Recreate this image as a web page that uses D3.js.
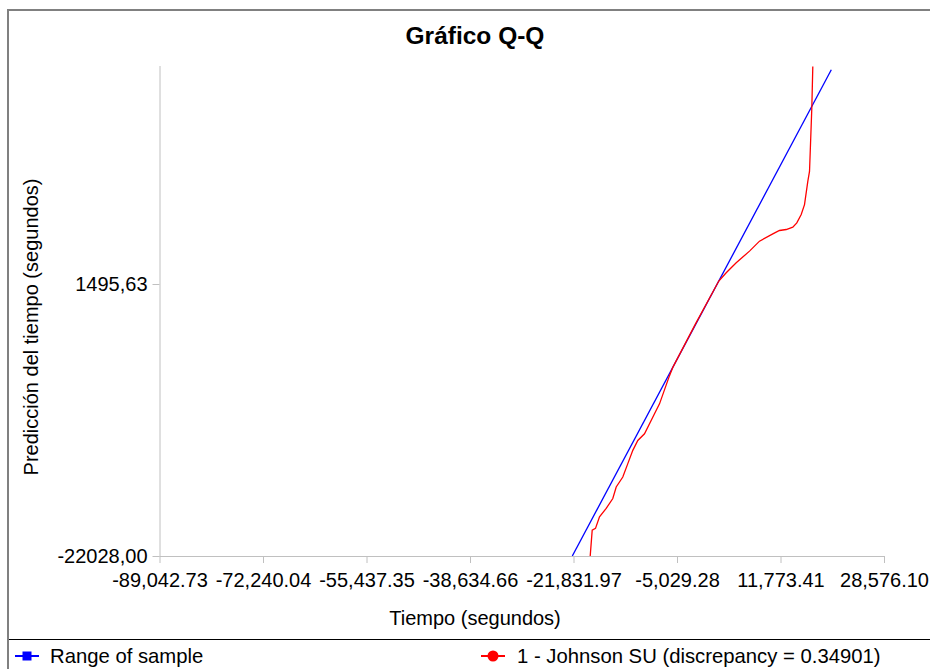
<!DOCTYPE html>
<html>
<head>
<meta charset="utf-8">
<script src="https://cdn.jsdelivr.net/npm/d3@7"></script>
<style>
  html, body { margin: 0; padding: 0; background: #fff; }
  svg { display: block; font-family: "Liberation Sans", Arial, sans-serif; }
</style>
</head>
<body>
<div id="chart"></div>
<script>
// ---- data ----
const title = "Gráfico Q-Q";
const xTitle = "Tiempo (segundos)";
const yTitle = "Predicción del tiempo (segundos)";
const xTickValues = [-89042.73, -72240.04, -55437.35, -38634.66, -21831.97, -5029.28, 11773.41, 28576.10];
const xTickLabels = ["-89,042.73", "-72,240.04", "-55,437.35", "-38,634.66", "-21,831.97", "-5,029.28", "11,773.41", "28,576.10"];
const yTickValues = [-22028.00, 1495.63];
const yTickLabels = ["-22028,00", "1495,63"];
const rangeX = [-22028, 20022];           // Range of sample (blue)
const rangeY = [-22028, 20022];
const qqX = [-19120, -18796, -18260, -17610, -16523, -15451, -14899, -13828, -13016, -12204, -11392, -10305, -8681, -7869, -6246, -5710, -2025, 1758, 2959, 4582, 6742, 8365, 10524, 11612, 12700, 13771, 14420, 15135, 15671, 16207, 16483, 16856, 17018];
const qqY = [-22028, -19788, -19641, -18642, -17918, -17056, -16056, -15195, -14040, -12894, -12032, -11455, -9732, -8870, -6431, -5716, -1951, 1754, 2470, 3331, 4339, 5201, 5830, 6123, 6209, 6407, 6778, 7501, 8363, 10371, 11233, 16687, 20300];
const legendLabels = ["Range of sample", "1 - Johnson SU (discrepancy = 0.34901)"];
const colors = ["#0000ff", "#ff0000"];

// ---- layout ----
const W = 930, H = 669;
const pLeft = 159.5, pRight = 884, pBottom = 556, pTop = 66;

const svg = d3.select("#chart").append("svg").attr("width", W).attr("height", H);

// frame
svg.append("rect").attr("x", 8).attr("y", 10).attr("width", W + 10).attr("height", H + 10)
  .attr("fill", "none").attr("stroke", "#808080").attr("stroke-width", 2);
svg.append("line").attr("x1", 9).attr("x2", W).attr("y1", 639.5).attr("y2", 639.5)
  .attr("stroke", "#000").attr("stroke-width", 1);

const x = d3.scaleLinear().domain([xTickValues[0], xTickValues[xTickValues.length - 1]]).range([pLeft, pRight]);
const y = d3.scaleLinear().domain(yTickValues).range([pBottom, 284]);

// clip
svg.append("clipPath").attr("id", "plotclip").append("rect")
  .attr("x", pLeft).attr("y", pTop).attr("width", pRight - pLeft + 60).attr("height", pBottom - pTop);

// axes
const axisColor = "#c0c0c0";
const xAxis = d3.axisBottom(x).tickValues(xTickValues).tickSize(7).tickSizeOuter(0)
  .tickFormat((d, i) => xTickLabels[i]);
const gx = svg.append("g").attr("transform", `translate(0,${pBottom})`).call(xAxis);
gx.select(".domain").attr("stroke", axisColor).attr("d", `M${pLeft},0.5H${pRight}`);
gx.selectAll(".tick line").attr("stroke", axisColor);
gx.selectAll(".tick text").attr("fill", "#000").attr("font-size", 20)
  .attr("font-family", "'Liberation Sans', Arial, sans-serif").attr("dy", "0").attr("y", 31);

const yAxis = d3.axisLeft(y).tickValues(yTickValues).tickSize(7).tickSizeOuter(0)
  .tickFormat((d, i) => yTickLabels[i]);
const gy = svg.append("g").attr("transform", `translate(${pLeft},0)`).call(yAxis);
gy.select(".domain").attr("stroke", axisColor).attr("d", `M0.5,${pTop}V${pBottom}`);
gy.selectAll(".tick line").attr("stroke", axisColor);
gy.selectAll(".tick text").attr("fill", "#000").attr("font-size", 20)
  .attr("font-family", "'Liberation Sans', Arial, sans-serif").attr("x", -12);

// series
const plot = svg.append("g").attr("clip-path", "url(#plotclip)");
const line = d3.line().x(d => x(d[0])).y(d => y(d[1]));
plot.append("path").datum(rangeX.map((v, i) => [v, rangeY[i]]))
  .attr("d", line).attr("fill", "none").attr("stroke", colors[0]).attr("stroke-width", 1.3);
plot.append("path").datum(qqX.map((v, i) => [v, qqY[i]]))
  .attr("d", line).attr("fill", "none").attr("stroke", colors[1]).attr("stroke-width", 1.3);

// titles
svg.append("text").attr("x", 475).attr("y", 44).attr("text-anchor", "middle")
  .attr("font-size", 24.5).attr("font-weight", "bold").text(title);
svg.append("text").attr("x", 475).attr("y", 625).attr("text-anchor", "middle")
  .attr("font-size", 20).text(xTitle);
svg.append("text").attr("transform", "translate(38,327) rotate(-90)").attr("text-anchor", "middle")
  .attr("font-size", 20).text(yTitle);

// legend
const lg = svg.append("g");
lg.append("line").attr("x1", 15).attr("x2", 39).attr("y1", 656).attr("y2", 656).attr("stroke", colors[0]).attr("stroke-width", 2);
lg.append("rect").attr("x", 22.5).attr("y", 651.5).attr("width", 9).attr("height", 9).attr("fill", colors[0]);
lg.append("text").attr("x", 50).attr("y", 663).attr("font-size", 20.3).text(legendLabels[0]);
lg.append("line").attr("x1", 481).attr("x2", 505).attr("y1", 656).attr("y2", 656).attr("stroke", colors[1]).attr("stroke-width", 2);
lg.append("circle").attr("cx", 493).attr("cy", 656).attr("r", 5.5).attr("fill", colors[1]);
lg.append("text").attr("x", 517).attr("y", 663).attr("font-size", 20.3).text(legendLabels[1]);
</script>
</body>
</html>
